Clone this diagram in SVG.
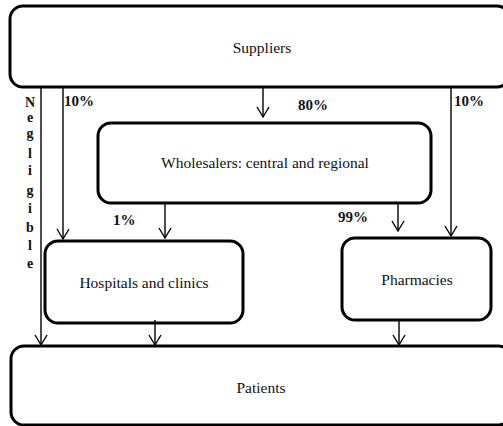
<svg xmlns="http://www.w3.org/2000/svg" width="503" height="426" viewBox="0 0 503 426">
<defs>
<marker id="arr" markerUnits="userSpaceOnUse" markerWidth="14" markerHeight="14" refX="11" refY="7" orient="auto" viewBox="0 0 14 14" overflow="visible">
<path d="M1,1 L11,7 L1,13" fill="none" stroke="#000" stroke-width="1.4"/>
</marker>
</defs>
<style>
.box{fill:#fff;stroke:#000;stroke-width:3}
.lbl{font-family:"Liberation Serif","Times New Roman","DejaVu Serif",serif;font-size:15.5px;fill:#111;text-anchor:middle}
.pct{font-family:"Liberation Serif","Times New Roman","DejaVu Serif",serif;font-size:15px;font-weight:bold;fill:#111}
.neg{font-family:"Liberation Serif","Times New Roman","DejaVu Serif",serif;font-size:14px;font-weight:bold;fill:#111;text-anchor:middle}
.c{stroke:#000;stroke-width:1.4;fill:none}
</style>
<rect width="503" height="426" fill="#fff"/>
<g id="suppliers">
<rect class="box" x="10" y="6" width="500" height="81" rx="13"/>
<text class="lbl" x="262" y="53">Suppliers</text>
</g>
<g id="wholesalers">
<rect class="box" x="98" y="123" width="333" height="80" rx="13"/>
<text class="lbl" x="265" y="168">Wholesalers: central and regional</text>
</g>
<g id="hospitals">
<rect class="box" x="45" y="241" width="198" height="82" rx="13"/>
<text class="lbl" x="144" y="288">Hospitals and clinics</text>
</g>
<g id="pharmacies">
<rect class="box" x="342" y="238" width="149" height="82" rx="13"/>
<text class="lbl" x="417" y="285">Pharmacies</text>
</g>
<g id="patients">
<rect class="box" x="11" y="346" width="500" height="79" rx="13"/>
<text class="lbl" x="261" y="393">Patients</text>
</g>
<g id="connectors">
<line class="c" x1="41" y1="88" x2="41" y2="345" marker-end="url(#arr)"/>
<line class="c" x1="63" y1="88" x2="63" y2="239" marker-end="url(#arr)"/>
<line class="c" x1="263" y1="88" x2="263" y2="117" marker-end="url(#arr)"/>
<line class="c" x1="451" y1="88" x2="451" y2="236" marker-end="url(#arr)"/>
<line class="c" x1="165" y1="202" x2="165" y2="238" marker-end="url(#arr)"/>
<line class="c" x1="398" y1="202" x2="398" y2="231" marker-end="url(#arr)"/>
<line class="c" x1="155" y1="320" x2="155" y2="345" marker-end="url(#arr)"/>
<line class="c" x1="399" y1="319" x2="399" y2="345" marker-end="url(#arr)"/>
</g>
<g id="labels">
<text class="pct" x="64" y="106">10%</text>
<text class="pct" x="298" y="110">80%</text>
<text class="pct" x="454" y="106">10%</text>
<text class="pct" x="113" y="225">1%</text>
<text class="pct" x="338" y="222">99%</text>
<text class="neg" x="30" y="107">N</text>
<text class="neg" x="30" y="122">e</text>
<text class="neg" x="30" y="138">g</text>
<text class="neg" x="30" y="158">l</text>
<text class="neg" x="30" y="175">i</text>
<text class="neg" x="30" y="195">g</text>
<text class="neg" x="30" y="213">i</text>
<text class="neg" x="30" y="232">b</text>
<text class="neg" x="30" y="250">l</text>
<text class="neg" x="30" y="268">e</text>
</g>
</svg>
